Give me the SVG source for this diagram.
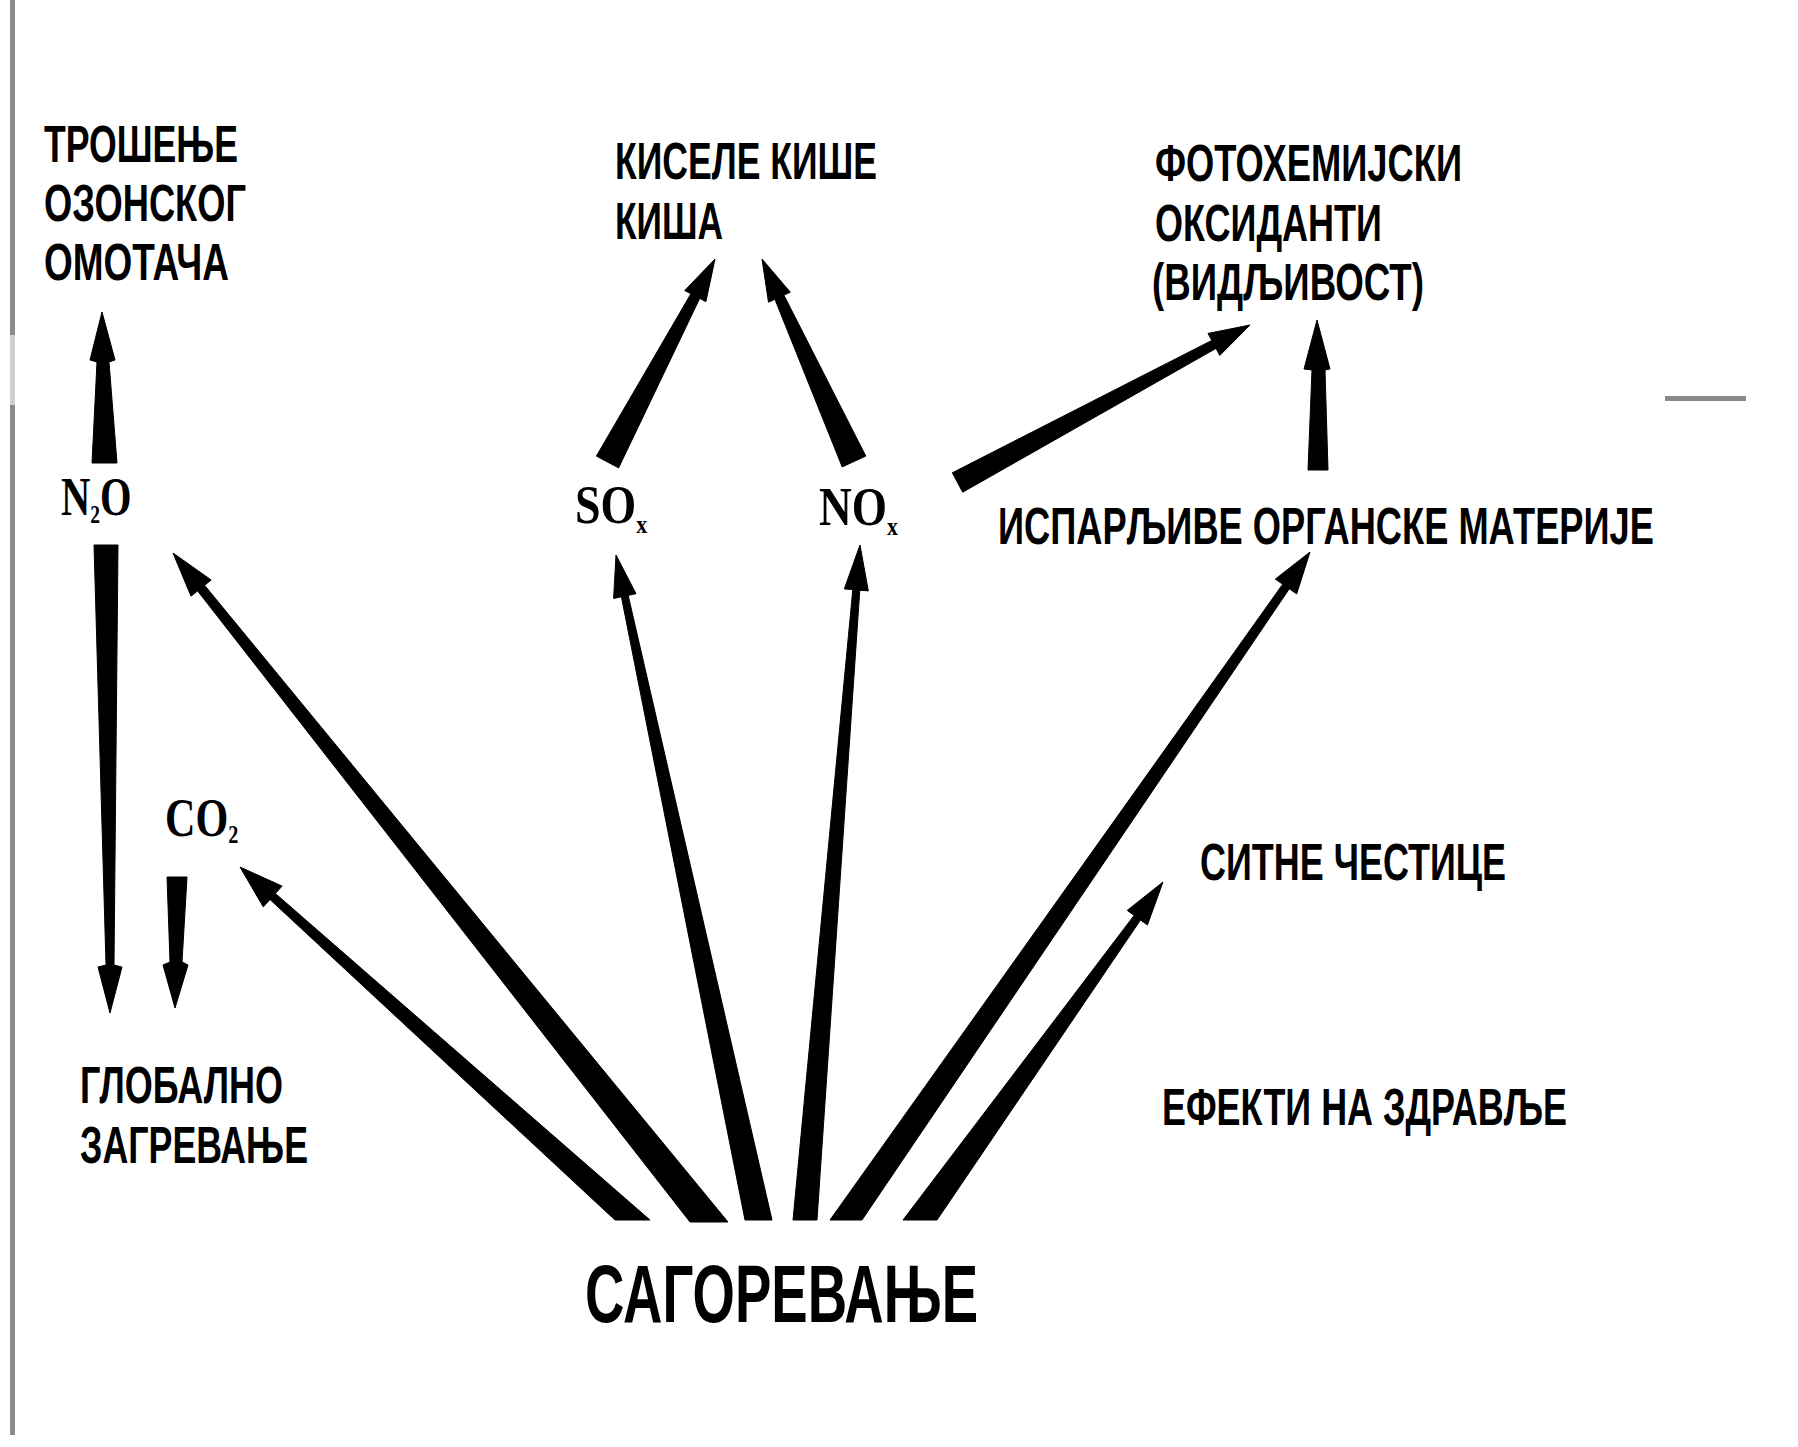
<svg xmlns="http://www.w3.org/2000/svg" width="1798" height="1447" viewBox="0 0 1798 1447">
<style>
.lbl{font-family:"Liberation Sans",Arial,sans-serif;font-weight:bold;font-size:52px;fill:#000}
.big{font-size:82px}
.chem{font-family:"Liberation Serif","Times New Roman",serif;font-weight:bold;font-size:54px;fill:#000}
.sub{font-size:26px}
.arr{fill:#000;stroke:#000;stroke-width:1;stroke-linejoin:round}
.frame{fill:#8a8a8a}
</style>
<rect width="1798" height="1447" fill="#fff"/>
<g id="frame">
<rect class="frame" x="10" y="0" width="5" height="335"/>
<rect x="10" y="335" width="5" height="70" fill="#cfcfcf"/>
<rect class="frame" x="10" y="405" width="5" height="1030"/>
<rect class="frame" x="1665" y="396" width="81" height="5"/>
</g>
<g id="connectors">
<polygon class="arr" points="650,1220 275.4,893.5 282.1,886.1 240,867 263.3,906.9 270,899.5 615,1220"/>
<polygon class="arr" points="728,1222 204.6,585.3 211.2,580 173,553 191,596.2 197.6,590.9 690,1222"/>
<polygon class="arr" points="772,1220 628.2,595.4 636,593.7 616,555 613.6,598.5 621.4,596.8 745,1220"/>
<polygon class="arr" points="817,1220 859.8,590.2 868.3,590.9 860,545 844.3,588.9 852.8,589.6 793,1220"/>
<polygon class="arr" points="862,1220 1289.3,588.8 1296.7,593.9 1310,552 1275.3,579.1 1282.7,584.2 830,1220"/>
<polygon class="arr" points="937,1220 1140.5,920 1147.4,925 1163,882 1127.2,910.4 1134.1,915.4 903,1220"/>
<polygon class="arr" points="92,463 97,362 90,360 102,312 115,360 109,362 117,463"/>
<polygon class="arr" points="94,545 118,545 114,965 122,967 110,1013 98,967 106,965"/>
<polygon class="arr" points="167,877 187,877 182,962 188,965 175,1008 163,965 170,962"/>
<polygon class="arr" points="618.6,467.9 699.7,298.4 705.9,301.7 715,259 684.7,290.5 690.9,293.8 596.4,456.1"/>
<polygon class="arr" points="865.8,456.1 783.9,295.1 790.3,292.2 762,259 768.5,302.2 774.9,299.3 842.2,466.9"/>
<polygon class="arr" points="962.7,492.2 1216,348.4 1219.8,355.4 1250,325 1208,333.4 1211.8,340.4 952.3,472.8"/>
<polygon class="arr" points="1308,470 1312,370 1304,369 1317,320 1330,369 1325,370 1328,470"/>
</g>
<g id="ozone">
<text class="lbl" x="44" y="162" textLength="194" lengthAdjust="spacingAndGlyphs">ТРОШЕЊЕ</text>
<text class="lbl" x="44" y="221" textLength="202" lengthAdjust="spacingAndGlyphs">ОЗОНСКОГ</text>
<text class="lbl" x="44" y="280" textLength="185" lengthAdjust="spacingAndGlyphs">ОМОТАЧА</text>
</g>
<g id="acid-rain">
<text class="lbl" x="615" y="179" textLength="262" lengthAdjust="spacingAndGlyphs">КИСЕЛЕ КИШЕ</text>
<text class="lbl" x="615" y="239" textLength="108" lengthAdjust="spacingAndGlyphs">КИША</text>
</g>
<g id="photochem">
<text class="lbl" x="1155" y="181" textLength="307" lengthAdjust="spacingAndGlyphs">ФОТОХЕМИЈСКИ</text>
<text class="lbl" x="1155" y="241" textLength="227" lengthAdjust="spacingAndGlyphs">ОКСИДАНТИ</text>
<text class="lbl" x="1152" y="300" textLength="272" lengthAdjust="spacingAndGlyphs">(ВИДЉИВОСТ)</text>
</g>
<g id="voc">
<text class="lbl" transform="translate(998,544) scale(0.7,1)" x="0" y="0" textLength="937" lengthAdjust="spacingAndGlyphs">ИСПАРЉИВЕ ОРГАНСКЕ МАТЕРИЈЕ</text>
</g>
<g id="particles">
<text class="lbl" x="1200" y="880" textLength="306" lengthAdjust="spacingAndGlyphs">СИТНЕ ЧЕСТИЦЕ</text>
</g>
<g id="health">
<text class="lbl" x="1162" y="1125" textLength="405" lengthAdjust="spacingAndGlyphs">ЕФЕКТИ НА ЗДРАВЉЕ</text>
</g>
<g id="warming">
<text class="lbl" x="80" y="1103" textLength="203" lengthAdjust="spacingAndGlyphs">ГЛОБАЛНО</text>
<text class="lbl" x="80" y="1163" textLength="228" lengthAdjust="spacingAndGlyphs">ЗАГРЕВАЊЕ</text>
</g>
<g id="combustion">
<text class="lbl big" x="585" y="1322" textLength="393" lengthAdjust="spacingAndGlyphs">САГОРЕВАЊЕ</text>
</g>
<g id="n2o">
<text class="chem" transform="translate(61,515) scale(0.75,1)">N<tspan class="sub" dy="8">2</tspan><tspan dy="-8">O</tspan></text>
</g>
<g id="co2">
<text class="chem" transform="translate(165,836) scale(0.78,1)">CO<tspan class="sub" dy="7">2</tspan></text>
</g>
<g id="sox">
<text class="chem" transform="translate(575,523) scale(0.85,1)">SO<tspan class="sub" dy="10">x</tspan></text>
</g>
<g id="nox">
<text class="chem" transform="translate(819,525) scale(0.84,1)">NO<tspan class="sub" dy="10">x</tspan></text>
</g>
</svg>
